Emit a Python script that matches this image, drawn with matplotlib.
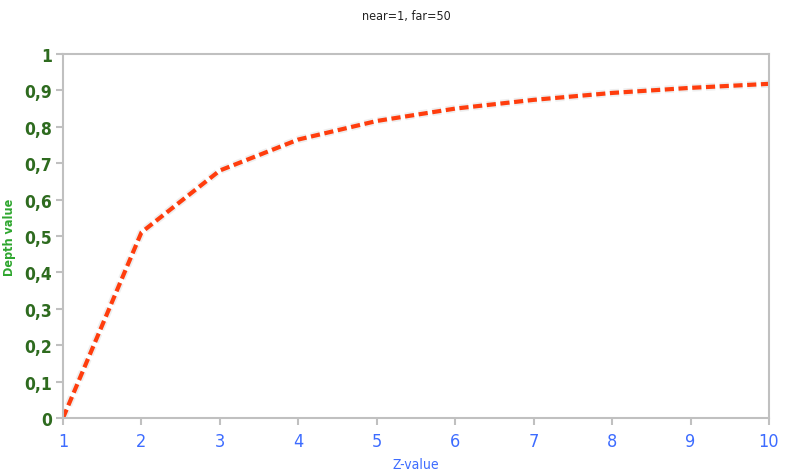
import matplotlib
matplotlib.use("Agg")
import matplotlib.pyplot as plt
import matplotlib.patheffects as pe
from matplotlib.ticker import FuncFormatter

# depth values (near=1, far=50)
z_values = [1, 2, 3, 4, 5, 6, 7, 8, 9, 10]
depth = [0.0, 0.51, 0.68, 0.765, 0.816, 0.85, 0.874, 0.893, 0.907, 0.918]
y_ticks = [0, 0.1, 0.2, 0.3, 0.4, 0.5, 0.6, 0.7, 0.8, 0.9, 1]

plt.rcParams['font.family'] = ['DejaVu Sans']
plt.rcParams['font.stretch'] = 'condensed'

fig = plt.figure(figsize=(8.12, 4.77), dpi=100)
ax = fig.add_axes([0.0776, 0.1216, 0.8694, 0.7631])

ax.plot(z_values, depth, color='#ff3d0d', linewidth=3, linestyle=(0, (2.2, 1.1)),
        path_effects=[pe.Stroke(linewidth=5.5, foreground='#eeeeee'), pe.Normal()])

ax.set_xlim(1, 10)
ax.set_ylim(0, 1)
ax.set_xticks(z_values)
ax.set_yticks(y_ticks)
ax.yaxis.set_major_formatter(FuncFormatter(lambda v, p: ('%g' % round(v, 1)).replace('.', ',')))

for s in ax.spines.values():
    s.set_color('#c0c0c0')
    s.set_linewidth(1.5)
ax.tick_params(axis='both', direction='out', length=5, width=1.5, color='#c0c0c0')
ax.tick_params(axis='y', labelcolor='#2e6b1f', labelsize=12.5, pad=3)
ax.tick_params(axis='x', labelcolor='#3d6cff', labelsize=13, pad=5)
for lbl in ax.get_yticklabels():
    lbl.set_fontweight('semibold')

ax.set_xlabel('Z-value', color='#3d6cff', fontsize=10, labelpad=5)
ax.set_ylabel('Depth value', color='#2ea62e', fontsize=9, fontweight='bold', labelpad=6)
fig.text(0.5, 0.965, 'near=1, far=50', ha='center', va='center', fontsize=9, color='#222222')

plt.savefig('out.png', dpi=100)
